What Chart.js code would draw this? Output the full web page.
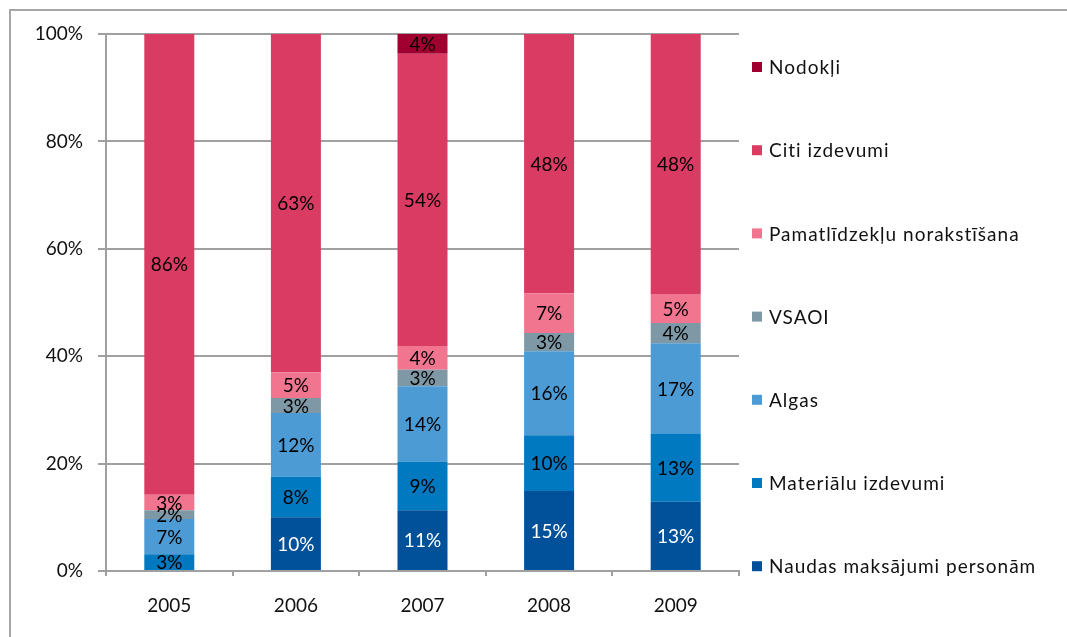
<!DOCTYPE html>
<html>
<head>
<meta charset="utf-8">
<script src="https://cdn.jsdelivr.net/npm/chart.js@4"></script>
<style>
  html, body { margin: 0; padding: 0; background: #fff; overflow: hidden; }
  #frame { position: absolute; left: 9px; top: 9px; width: 1100px; height: 700px;
           border-left: 2px solid #A6A6A6; border-top: 2px solid #A6A6A6; }
  #wrap { position: absolute; left: 0; top: 0; width: 1067px; height: 637px; }
</style>
</head>
<body>
<div id="frame"></div>
<div id="wrap"><canvas id="c" width="1067" height="637"></canvas></div>
<script>
// Cost structure by year, share of total (%)
const years     = ['2005', '2006', '2007', '2008', '2009'];
const naudas    = [0,    10.0, 11.3, 14.9, 12.9];
const materialu = [3.1,  7.6,  9.1,  10.4, 12.6];
const algas     = [6.6,  11.8, 14.0, 15.6, 16.9];
const vsaoi     = [1.6,  2.8,  3.1,  3.4,  3.8];
const pamatl    = [2.9,  4.8,  4.4,  7.4,  5.4];
const citi      = [85.8, 63.0, 54.4, 48.3, 48.4];
const nodokli   = [0,    0,    3.7,  0,    0];
const yTicks    = [0, 20, 40, 60, 80, 100];

const seriesNames = ['Naudas maksājumi personām', 'Materiālu izdevumi', 'Algas', 'VSAOI',
                     'Pamatlīdzekļu norakstīšana', 'Citi izdevumi', 'Nodokļi'];
const seriesData  = [naudas, materialu, algas, vsaoi, pamatl, citi, nodokli];
const seriesColors = ['#00519A', '#0079C0', '#4C9BD5', '#7E98A6', '#F27590', '#D93B63', '#A00030'];
const labelColors  = ['#FFFFFF', '#000000', '#000000', '#000000', '#000000', '#000000', '#000000'];

const FONT = 'Lato, "Open Sans", sans-serif';
const GRAY = '#A0A0A0';

Chart.defaults.font.family = FONT;
Chart.defaults.font.size = 19;
Chart.defaults.color = '#111';

// Percentage label in the middle of each segment
const segmentLabels = {
  id: 'segmentLabels',
  afterDatasetsDraw(chart) {
    const ctx = chart.ctx;
    ctx.save();
    ctx.font = '19px ' + FONT;
    ctx.textAlign = 'center';
    ctx.textBaseline = 'middle';
    chart.data.datasets.forEach((ds, di) => {
      const meta = chart.getDatasetMeta(di);
      meta.data.forEach((bar, i) => {
        const v = ds.data[i];
        if (!v) return;
        const p = bar.getProps(['x', 'y', 'base'], true);
        ctx.fillStyle = labelColors[di];
        ctx.fillText(Math.round(v) + '%', p.x, (p.y + p.base) / 2 + 1);
      });
    });
    ctx.restore();
  }
};

// Vertical legend on the right, top series first
const sideLegend = {
  id: 'sideLegend',
  afterDraw(chart) {
    const ctx = chart.ctx;
    ctx.save();
    ctx.font = '19px ' + FONT;
    ctx.letterSpacing = '1px';
    ctx.textAlign = 'left';
    ctx.textBaseline = 'middle';
    const ds = chart.data.datasets.slice().reverse();
    ds.forEach((d, i) => {
      const y = 68 + i * 83.2;
      ctx.fillStyle = d.backgroundColor;
      ctx.fillRect(752, y - 6, 10, 10);
      ctx.fillStyle = '#111';
      ctx.fillText(d.label, 769, y);
    });
    ctx.restore();
  }
};

new Chart(document.getElementById('c'), {
  type: 'bar',
  data: {
    labels: years,
    datasets: seriesNames.map((name, k) => ({
      label: name,
      data: seriesData[k],
      backgroundColor: seriesColors[k],
      borderWidth: 0,
      categoryPercentage: 1,
      barPercentage: 0.395
    }))
  },
  options: {
    responsive: false,
    animation: false,
    layout: { padding: { left: 0, right: 328, top: 34, bottom: 0 } },
    plugins: { legend: { display: false }, tooltip: { enabled: false } },
    scales: {
      x: {
        stacked: true,
        grid: { drawOnChartArea: false, drawTicks: true, tickLength: 5, color: GRAY, lineWidth: 2 },
        border: { display: true, color: GRAY, width: 2 },
        ticks: { padding: 18, color: '#111' },
        afterFit(s) { s.height = 66; }
      },
      y: {
        stacked: true,
        min: 0,
        max: 100,
        afterBuildTicks(s) { s.ticks = yTicks.map(v => ({ value: v })); },
        grid: { color: GRAY, lineWidth: 2, tickLength: 8 },
        border: { display: true, color: GRAY, width: 2 },
        ticks: { padding: 15, color: '#111', callback: v => v + '%' },
        afterFit(s) { s.width = 106; }
      }
    }
  },
  plugins: [segmentLabels, sideLegend]
});
</script>
</body>
</html>
